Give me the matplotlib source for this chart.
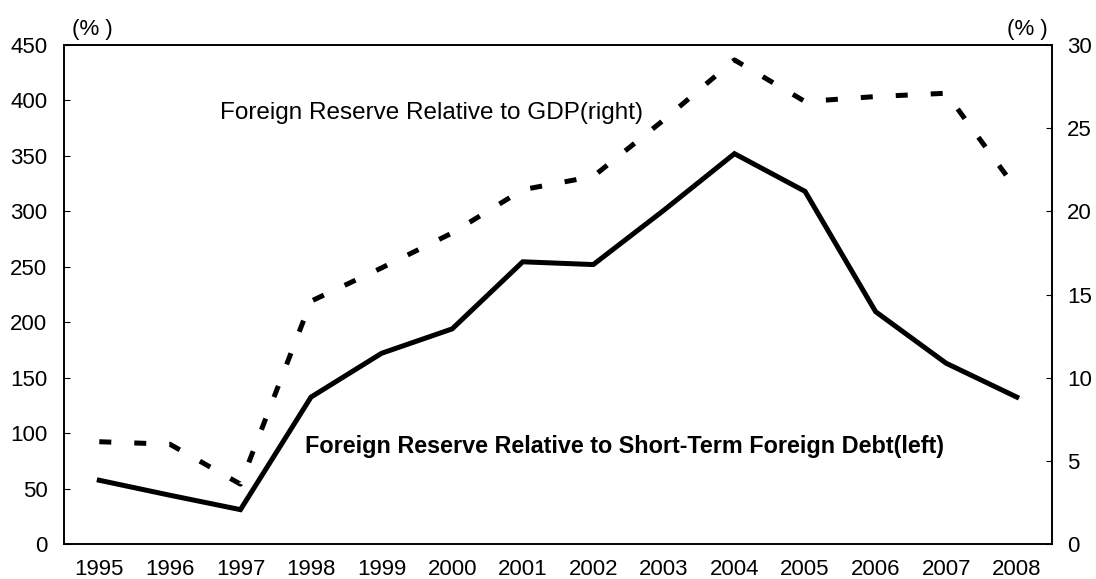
import matplotlib
matplotlib.use("Agg")
import matplotlib.pyplot as plt

plt.rcParams['font.family'] = ['Liberation Sans', 'DejaVu Sans']

years = ['1995', '1996', '1997', '1998', '1999', '2000', '2001',
         '2002', '2003', '2004', '2005', '2006', '2007', '2008']
# reserve / short-term foreign debt (%), left axis
reserve_to_debt = [57.5, 44, 31, 132.5, 172, 194, 254.5,
                   252, 301, 352, 318, 209.5, 163, 132.5]
# reserve / GDP (%), right axis
reserve_to_gdp = [6.15, 6.0, 3.6, 14.6, 16.6, 18.7, 21.3,
                  22.1, 25.5, 29.1, 26.6, 26.9, 27.1, 21.3]

left_ticks = [0, 50, 100, 150, 200, 250, 300, 350, 400, 450]
right_ticks = [0, 5, 10, 15, 20, 25, 30]

fs = 16

fig = plt.figure(figsize=(10.96, 5.79), dpi=100)
ax = fig.add_axes([0.0584, 0.0604, 0.9015, 0.8619])
ax2 = ax.twinx()

x = list(range(len(years)))
ax.plot(x, reserve_to_debt, color='black', lw=3.6, solid_joinstyle='miter', zorder=3)
ax2.plot(x, reserve_to_gdp, color='black', lw=3.6, linestyle=(0, (2.4, 4.6)),
         dash_capstyle='butt', zorder=3)

ax.set_xlim(-0.5, len(years) - 0.5)
ax.set_ylim(0, 450)
ax2.set_ylim(0, 30)
ax.set_xticks(x)
ax.set_xticklabels(years)
ax.set_yticks(left_ticks)
ax2.set_yticks(right_ticks)

ax.tick_params(axis='x', length=0, pad=11, labelsize=fs)
ax.tick_params(axis='y', direction='in', length=4.3, width=0.8, pad=12, labelsize=fs)
ax2.tick_params(axis='y', direction='in', length=4.3, width=0.8, pad=11, labelsize=fs)

for a in (ax, ax2):
    for s in a.spines.values():
        s.set_linewidth(1.2)

fig.text(72 / 1096, 1 - 29 / 579, '(% )', fontsize=fs, va='center', ha='left')
fig.text(1048 / 1096, 1 - 29 / 579, '(% )', fontsize=fs, va='center', ha='right')

ax.text(220 / 1096, 1 - 113 / 579, 'Foreign Reserve Relative to GDP(right)',
        transform=fig.transFigure, fontsize=17.5, va='center', ha='left')
ax.text(305 / 1096, 1 - 446 / 579,
        'Foreign Reserve Relative to Short-Term Foreign Debt(left)',
        transform=fig.transFigure, fontsize=16.8, fontweight='bold', va='center', ha='left')

fig.savefig('out.png', dpi=100)
